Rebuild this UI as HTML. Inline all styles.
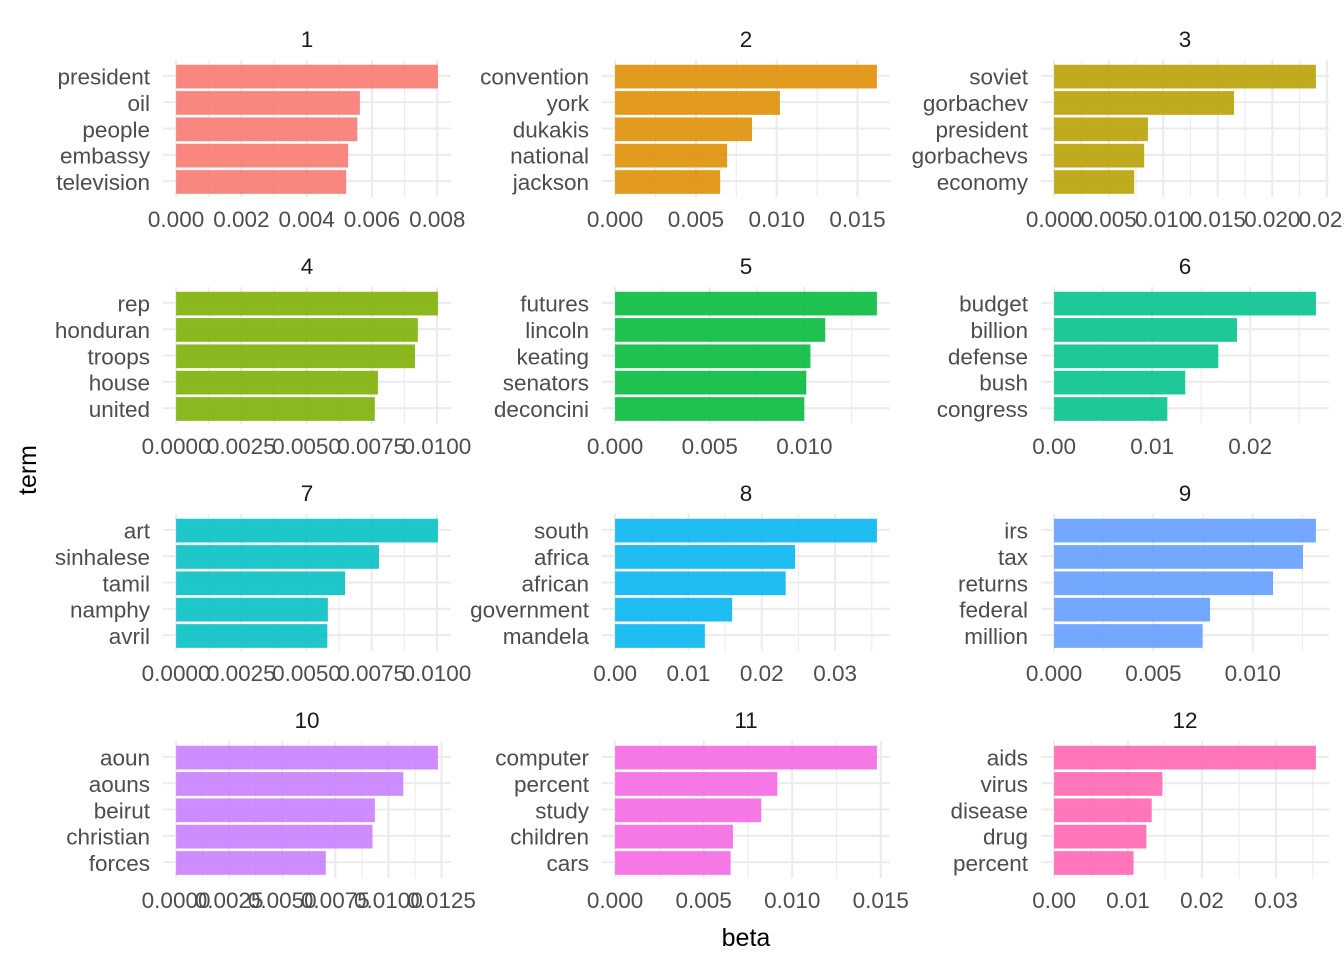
<!DOCTYPE html>
<html><head><meta charset="utf-8">
<style>
html,body{margin:0;padding:0;background:#fff;}
svg{display:block;font-family:"Liberation Sans",Arial,sans-serif;}
</style></head>
<body>
<svg id="chart" width="1344" height="960" viewBox="0 0 1344 960" xmlns="http://www.w3.org/2000/svg">
<text x="0" y="0" transform="translate(36,470) rotate(-90)" text-anchor="middle" font-size="25" fill="#000">term</text>
<text x="746" y="946" text-anchor="middle" font-size="25" fill="#000">beta</text>
</svg>
<script>
const topics = ["1","2","3","4","5","6","7","8","9","10","11","12"];
const terms1 = ["president","oil","people","embassy","television"];
const beta1 = [0.00802,0.00563,0.00555,0.00527,0.00521];
const terms2 = ["convention","york","dukakis","national","jackson"];
const beta2 = [0.0162,0.0102,0.00847,0.00693,0.0065];
const terms3 = ["soviet","gorbachev","president","gorbachevs","economy"];
const beta3 = [0.024,0.0165,0.0086,0.00826,0.00734];
const terms4 = ["rep","honduran","troops","house","united"];
const beta4 = [0.01004,0.00927,0.00916,0.00774,0.00762];
const terms5 = ["futures","lincoln","keating","senators","deconcini"];
const beta5 = [0.01383,0.0111,0.01032,0.0101,0.00999];
const terms6 = ["budget","billion","defense","bush","congress"];
const beta6 = [0.0267,0.01865,0.01675,0.01337,0.01155];
const terms7 = ["art","sinhalese","tamil","namphy","avril"];
const beta7 = [0.01004,0.00778,0.00648,0.00582,0.0058];
const terms8 = ["south","africa","african","government","mandela"];
const beta8 = [0.0357,0.02455,0.02326,0.01596,0.01224];
const terms9 = ["irs","tax","returns","federal","million"];
const beta9 = [0.01318,0.01253,0.01102,0.00785,0.00747];
const terms10 = ["aoun","aouns","beirut","christian","forces"];
const beta10 = [0.01233,0.0107,0.00936,0.00925,0.00705];
const terms11 = ["computer","percent","study","children","cars"];
const beta11 = [0.01478,0.00916,0.00825,0.00665,0.00652];
const terms12 = ["aids","virus","disease","drug","percent"];
const beta12 = [0.0354,0.01465,0.0132,0.01248,0.01075];
const ticks1 = ["0.000","0.002","0.004","0.006","0.008"];
const ticks2 = ["0.000","0.005","0.010","0.015"];
const ticks3 = ["0.000","0.005","0.010","0.015","0.020","0.025"];
const ticks4 = ["0.0000","0.0025","0.0050","0.0075","0.0100"];
const ticks5 = ["0.000","0.005","0.010"];
const ticks6 = ["0.00","0.01","0.02"];
const ticks7 = ["0.0000","0.0025","0.0050","0.0075","0.0100"];
const ticks8 = ["0.00","0.01","0.02","0.03"];
const ticks9 = ["0.000","0.005","0.010"];
const ticks10 = ["0.0000","0.0025","0.0050","0.0075","0.0100","0.0125"];
const ticks11 = ["0.000","0.005","0.010","0.015"];
const ticks12 = ["0.00","0.01","0.02","0.03"];

const allTerms=[terms1,terms2,terms3,terms4,terms5,terms6,terms7,terms8,terms9,terms10,terms11,terms12];
const allBeta=[beta1,beta2,beta3,beta4,beta5,beta6,beta7,beta8,beta9,beta10,beta11,beta12];
const allTicks=[ticks1,ticks2,ticks3,ticks4,ticks5,ticks6,ticks7,ticks8,ticks9,ticks10,ticks11,ticks12];
const colors=["#F8766D","#DE8C00","#B79F00","#7CAE00","#00BA38","#00C08B","#00BFC4","#00B4F0","#619CFF","#C77CFF","#F564E3","#FF64B0"];
const NS="http://www.w3.org/2000/svg";
const svg=document.getElementById('chart');
function mk(tag,attrs,parent){const e=document.createElementNS(NS,tag);for(const k in attrs)e.setAttribute(k,attrs[k]);(parent||svg).appendChild(e);return e;}
const colL=[163,602,1041], rowT=[60,287,514,741], PW=288, PH=137;
const FS=22.5;
for(let p=0;p<12;p++){
  const L=colL[p%3], T=rowT[Math.floor(p/3)];
  const terms=allTerms[p], vals=allBeta[p], ticks=allTicks[p];
  const mx=Math.max(...vals);
  const xs=v=>L+PW*((v+0.05*mx)/(1.1*mx));
  const n=terms.length, step=PH/(n+0.2);
  const yc=i=>T+step*(0.6+i);
  const g=mk('g',{});
  
  
  const tv=ticks.map(Number);
  const d=tv.length>1?tv[1]-tv[0]:mx;
  for(let k=-1;k<tv.length+1;k++){
    const mv=(k<0?tv[0]-d:tv[k]!==undefined?tv[k]:tv[tv.length-1]+d*(k-tv.length+1))+d/2;
    const px=xs(mv);
    if(px>L&&px<L+PW){const ln=mk('line',{x1:px,x2:px,y1:T,y2:T+PH,stroke:'#ebebeb','stroke-width':1.1},g);
      
      }
  }
  tv.forEach((v,k)=>{const px=xs(v);
    const ln=mk('line',{x1:px,x2:px,y1:T,y2:T+PH,stroke:'#ebebeb','stroke-width':2.1},g);
    
    
    const t=mk('text',{x:px,y:T+PH+30,'text-anchor':'middle','font-size':FS,fill:'#4d4d4d'},g);
    t.textContent=ticks[k];
    
    
  });
  terms.forEach((tm,i)=>{const y=yc(i);
    const ln=mk('line',{x1:L,x2:L+PW,y1:y,y2:y,stroke:'#ebebeb','stroke-width':2.1},g);
    
    
  });
  terms.forEach((tm,i)=>{const y=yc(i)+0.8, h=step*0.9;
    const r=mk('rect',{x:xs(0),y:y-h/2,width:xs(vals[i])-xs(0),height:h,fill:colors[p],'fill-opacity':0.88},g);
    
    
    const t=mk('text',{x:L-13,y:y+8,'text-anchor':'end','font-size':FS,fill:'#4d4d4d'},g);
    t.textContent=tm;
    
    
  });
  const tt=mk('text',{x:L+PW/2,y:T-13,'text-anchor':'middle','font-size':FS,fill:'#1a1a1a'},g);
  tt.textContent=topics[p];
  
  
}
</script>
</body></html>
